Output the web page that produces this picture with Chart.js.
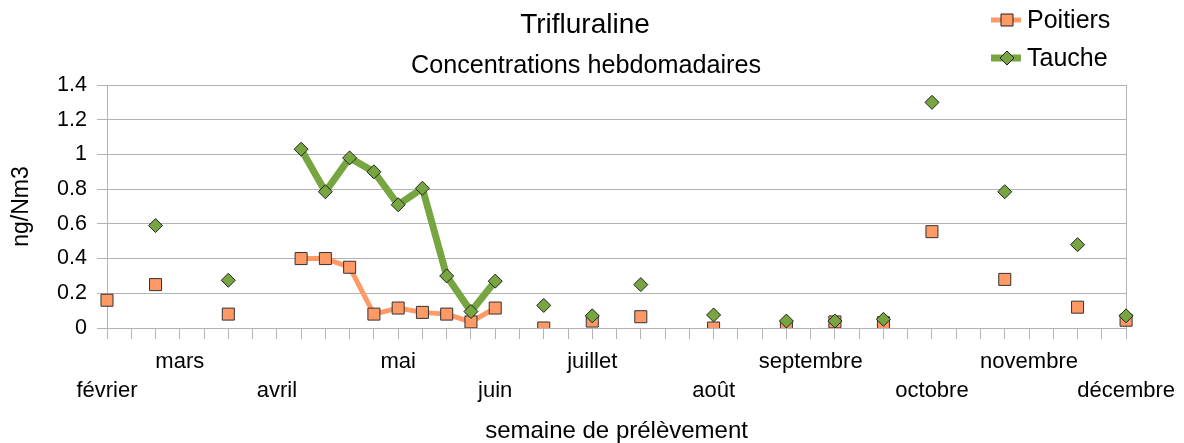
<!DOCTYPE html>
<html>
<head>
<meta charset="utf-8">
<script src="https://cdn.jsdelivr.net/npm/chart.js@4/dist/chart.umd.min.js"></script>
<style>
  html, body { margin: 0; padding: 0; background: #fff; }
  #wrap { width: 1184px; height: 443px; }
</style>
</head>
<body>
<div id="wrap"><canvas id="chart" width="1184" height="443"></canvas></div>
<script>
// month names and the week index where each label sits
const monthNames = ["février", "mars", "avril", "mai", "juin", "juillet", "août", "septembre", "octobre", "novembre", "décembre"];
const monthWeek = [0, 3, 7, 12, 16, 20, 25, 29, 34, 38, 42];
const weekCount = 43;

// weekly concentrations (ng/Nm3), null = no sample
const poitiers = [0.16, null, 0.25, null, null, 0.08, null, null, 0.40, 0.40,
  0.35, 0.08, 0.115, 0.09, 0.08, 0.035, 0.115, null, 0.0, null,
  0.04, null, 0.065, null, null, 0.0, null, null, 0.005, null,
  0.035, null, 0.03, null, 0.555, null, null, 0.28, null, null,
  0.12, null, 0.045];
const tauche = [null, null, 0.59, null, null, 0.275, null, null, 1.03, 0.785,
  0.98, 0.90, 0.71, 0.805, 0.30, 0.095, 0.27, null, 0.13, null,
  0.07, null, 0.25, null, null, 0.075, null, null, 0.04, null,
  0.04, null, 0.05, null, 1.30, null, null, 0.785, null, null,
  0.48, null, 0.07];

const yTicks = [0, 0.2, 0.4, 0.6, 0.8, 1, 1.2, 1.4];

const ORANGE = "#ff9966";
const GREEN = "#77a540";
const GRID = "#b3b3b3";
const FONT = "'Liberation Sans', Arial, sans-serif";

// labels alternate between two rows
const labels = [];
for (let i = 0; i < weekCount; i++) labels.push("");
monthNames.forEach((m, i) => {
  labels[monthWeek[i]] = i % 2 === 0 ? ["", m] : m;
});

// titles + legend drawn above the plot
const headerPlugin = {
  id: "header",
  afterDraw(chart) {
    const ctx = chart.ctx;
    ctx.save();
    ctx.fillStyle = "#000";
    ctx.textAlign = "center";
    ctx.textBaseline = "middle";
    ctx.font = "28px " + FONT;
    ctx.fillText("Trifluraline", 585, 25);
    ctx.font = "25.2px " + FONT;
    ctx.fillText("Concentrations hebdomadaires", 586, 66);

    // legend
    const items = [
      { name: "Poitiers", color: ORANGE, y: 20, lw: 5, shape: "rect" },
      { name: "Tauche", color: GREEN, y: 58, lw: 7, shape: "diamond" },
    ];
    items.forEach((it) => {
      ctx.strokeStyle = it.color;
      ctx.lineWidth = it.lw;
      ctx.beginPath();
      ctx.moveTo(991, it.y);
      ctx.lineTo(1021, it.y);
      ctx.stroke();
      ctx.fillStyle = it.color;
      ctx.strokeStyle = "#222";
      ctx.lineWidth = 1;
      ctx.beginPath();
      if (it.shape === "rect") {
        ctx.rect(1001, it.y - 6, 12, 12);
      } else {
        ctx.moveTo(1007, it.y - 7);
        ctx.lineTo(1014, it.y);
        ctx.lineTo(1007, it.y + 7);
        ctx.lineTo(1000, it.y);
        ctx.closePath();
      }
      ctx.fill();
      ctx.stroke();
      ctx.fillStyle = "#000";
      ctx.textAlign = "left";
      ctx.font = "25px " + FONT;
      ctx.fillText(it.name, 1027, it.y + 1);
    });
    ctx.restore();
  },
};

new Chart(document.getElementById("chart"), {
  type: "line",
  data: {
    labels: labels,
    datasets: [
      {
        label: "Tauche",
        data: tauche,
        order: 0,
        borderColor: GREEN,
        borderWidth: 7,
        backgroundColor: GREEN,
        pointStyle: "rectRot",
        pointRadius: 7,
        pointBorderColor: "#222",
        pointBorderWidth: 1,
        pointBackgroundColor: GREEN,
        spanGaps: false,
        tension: 0,
      },
      {
        label: "Poitiers",
        data: poitiers,
        order: 1,
        borderColor: ORANGE,
        borderWidth: 5,
        backgroundColor: ORANGE,
        pointStyle: "rect",
        pointRadius: 8.5,
        pointBorderColor: "#333",
        pointBorderWidth: 1,
        pointBackgroundColor: ORANGE,
        spanGaps: false,
        tension: 0,
      },
    ],
  },
  options: {
    responsive: false,
    animation: false,
    layout: { padding: { top: 85, right: 57, left: 0, bottom: 0 } },
    plugins: {
      legend: { display: false },
      title: { display: false },
      tooltip: { enabled: false },
    },
    scales: {
      x: {
        afterFit: (s) => { s.height = 115; },
        grid: {
          color: (c) => (c.index === weekCount - 1 ? GRID : "rgba(0,0,0,0)"),
          tickColor: GRID,
          tickLength: 11,
          lineWidth: 1,
        },
        border: { color: GRID },
        ticks: {
          autoSkip: false,
          maxRotation: 0,
          minRotation: 0,
          padding: 9,
          color: "#000",
          font: { family: FONT, size: 22, lineHeight: 1.3 },
        },
        title: {
          display: true,
          text: "semaine de prélèvement",
          color: "#000",
          font: { family: FONT, size: 24, lineHeight: 1 },
          padding: { top: 0, bottom: 0 },
        },
      },
      y: {
        min: 0,
        max: 1.4,
        afterFit: (s) => { s.width = 107; },
        afterBuildTicks: (s) => { s.ticks = yTicks.map((v) => ({ value: v })); },
        grid: { color: GRID, tickColor: GRID, tickLength: 10, lineWidth: 1 },
        border: { color: GRID },
        ticks: {
          padding: 10,
          color: "#000",
          font: { family: FONT, size: 21.5 },
          callback: (v) => String(+(+v).toFixed(1)),
        },
        title: {
          display: true,
          text: "ng/Nm3",
          color: "#000",
          font: { family: FONT, size: 23, lineHeight: 1 },
          padding: { top: 10, bottom: 0 },
        },
      },
    },
  },
  plugins: [headerPlugin],
});
</script>
</body>
</html>
